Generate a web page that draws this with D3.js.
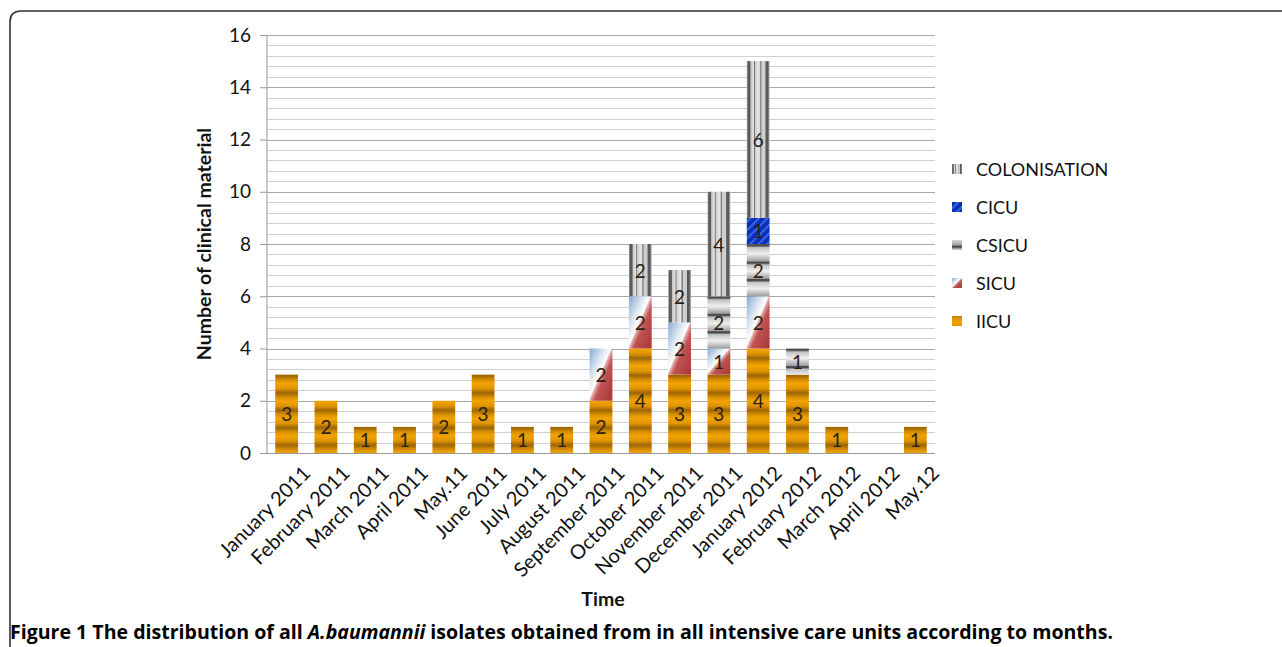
<!DOCTYPE html>
<html lang="en">
<meta charset="utf-8">
<script src="https://d3js.org/d3.v7.min.js"></script>
<head>
    <style type="text/css">
        body { margin: 0; background: white; }
        text { font-family: Lato, "Open Sans", sans-serif; }
        .tick text { fill: #111; }
        .label { font-size: 19.5px; font-weight: bold; fill: #111; }
        .seg { font-size: 19px; fill: #2b2010; }
        .legend text { font-size: 18px; fill: #111; }
    </style>
</head>
<body>
<div id="my_dataviz"></div>
<script>

    // data
    const months = ["January 2011", "February 2011", "March 2011", "April 2011", "May.11", "June 2011",
        "July 2011", "August 2011", "September 2011", "October 2011", "November 2011", "December 2011",
        "January 2012", "February 2012", "March 2012", "April 2012", "May.12"];
    const units = ["IICU", "SICU", "CSICU", "CICU", "COLONISATION"];
    const iicu = [3, 2, 1, 1, 2, 3, 1, 1, 2, 4, 3, 3, 4, 3, 1, 0, 1];
    const sicu = [0, 0, 0, 0, 0, 0, 0, 0, 2, 2, 2, 1, 2, 0, 0, 0, 0];
    const csicu = [0, 0, 0, 0, 0, 0, 0, 0, 0, 0, 0, 2, 2, 1, 0, 0, 0];
    const cicu = [0, 0, 0, 0, 0, 0, 0, 0, 0, 0, 0, 0, 1, 0, 0, 0, 0];
    const colonisation = [0, 0, 0, 0, 0, 0, 0, 0, 0, 2, 2, 4, 6, 0, 0, 0, 0];
    const yTicks = [0, 2, 4, 6, 8, 10, 12, 14, 16];

    const rows = months.map((m, i) => ({
        month: m, IICU: iicu[i], SICU: sicu[i], CSICU: csicu[i], CICU: cicu[i], COLONISATION: colonisation[i]
    }));

    const W = 1282, H = 647;
    const plot = { left: 267, right: 935, top: 35, bottom: 453 };

    const svg = d3.select("#my_dataviz")
        .append("svg")
        .attr("width", W)
        .attr("height", H);

    // frame with rounded top-left corner
    svg.append("path")
        .attr("d", "M10,660 L10,22 Q10,11 21,11 L1290,11")
        .attr("fill", "none")
        .attr("stroke", "#333")
        .attr("stroke-width", 1.6);

    const defs = svg.append("defs");

    // IICU: golden horizontal bands
    const gGold = defs.append("linearGradient").attr("id", "gGold")
        .attr("x1", 0).attr("y1", 0).attr("x2", 0).attr("y2", 1);
    [[0, "#f2a400"], [0.3, "#e09400"], [0.55, "#9a6406"], [0.75, "#d08a00"], [1, "#f2a400"]]
        .forEach(s => gGold.append("stop").attr("offset", s[0]).attr("stop-color", s[1]));
    const pGold = defs.append("pattern").attr("id", "pGold")
        .attr("patternUnits", "userSpaceOnUse").attr("width", 40).attr("height", 17.4)
        .attr("y", 453);
    pGold.append("rect").attr("width", 40).attr("height", 17.4).attr("fill", "url(#gGold)");

    // SICU: blue/white to red diagonal
    const gSicu = defs.append("linearGradient").attr("id", "gSicu")
        .attr("x1", 0).attr("y1", 0).attr("x2", 1).attr("y2", 1);
    [[0, "#86a8d4"], [0.3, "#d8e4f0"], [0.47, "#ffffff"], [0.5, "#e2b0b0"], [0.6, "#c05252"], [1, "#a83838"]]
        .forEach(s => gSicu.append("stop").attr("offset", s[0]).attr("stop-color", s[1]));

    // CSICU: gray horizontal bands
    const gCs = defs.append("linearGradient").attr("id", "gCs")
        .attr("x1", 0).attr("y1", 0).attr("x2", 0).attr("y2", 1);
    [[0, "#4a4a4a"], [0.12, "#4a4a4a"], [0.16, "#bdbdbd"], [0.55, "#f0f0f0"], [1, "#9a9a9a"]]
        .forEach(s => gCs.append("stop").attr("offset", s[0]).attr("stop-color", s[1]));
    const pCs = defs.append("pattern").attr("id", "pCs")
        .attr("patternUnits", "userSpaceOnUse").attr("width", 40).attr("height", 17.4)
        .attr("y", 453);
    pCs.append("rect").attr("width", 40).attr("height", 17.4).attr("fill", "url(#gCs)");

    // COLONISATION: light gray with thin dark vertical stripes
    const gCol = defs.append("linearGradient").attr("id", "gCol")
        .attr("x1", 0).attr("y1", 0).attr("x2", 1).attr("y2", 0);
    [[0, "#b0b0b0"], [0.06, "#5a5a5a"], [0.14, "#5a5a5a"], [0.18, "#c4c4c4"], [0.3, "#e4e4e4"],
        [0.34, "#707070"], [0.38, "#d0d0d0"], [0.55, "#e8e8e8"], [0.62, "#707070"], [0.66, "#d0d0d0"],
        [0.8, "#cfcfcf"], [0.84, "#5a5a5a"], [0.92, "#5a5a5a"], [1, "#b8b8b8"]]
        .forEach(s => gCol.append("stop").attr("offset", s[0]).attr("stop-color", s[1]));

    // CICU: blue with diagonal streaks
    const pCicu = defs.append("pattern").attr("id", "pCicu")
        .attr("patternUnits", "userSpaceOnUse").attr("width", 6).attr("height", 6)
        .attr("patternTransform", "rotate(45)");
    pCicu.append("rect").attr("width", 6).attr("height", 6).attr("fill", "#0a2fb8");
    pCicu.append("rect").attr("width", 2).attr("height", 6).attr("fill", "#3a64e0");

    const fills = {
        IICU: "url(#pGold)", SICU: "url(#gSicu)", CSICU: "url(#pCs)",
        CICU: "url(#pCicu)", COLONISATION: "url(#gCol)"
    };

    const x = d3.scaleBand()
        .domain(months)
        .range([plot.left, plot.right])
        .paddingInner(0.42)
        .paddingOuter(0.21);

    const y = d3.scaleLinear()
        .domain([0, 16])
        .range([plot.bottom, plot.top]);

    // minor gridlines every 0.4, major every 2
    const minor = d3.range(0, 16.01, 0.4);
    svg.append("g").selectAll("line")
        .data(minor)
        .join("line")
        .attr("x1", plot.left).attr("x2", plot.right)
        .attr("y1", d => Math.round(y(d)) + 0.5).attr("y2", d => Math.round(y(d)) + 0.5)
        .attr("stroke", "#cfcfcf")
        .attr("stroke-width", 1.2);
    svg.append("g").selectAll("line")
        .data(yTicks)
        .join("line")
        .attr("x1", plot.left).attr("x2", plot.right)
        .attr("y1", d => Math.round(y(d)) + 0.5).attr("y2", d => Math.round(y(d)) + 0.5)
        .attr("stroke", "#a8a8a8")
        .attr("stroke-width", 1.2);

    // Y axis
    const yAxis = svg.append("g")
        .attr("transform", `translate(${plot.left},0)`)
        .call(d3.axisLeft(y).tickValues(yTicks).tickSize(7).tickPadding(9));
    yAxis.selectAll("line, path").attr("stroke", "#999");
    yAxis.select(".domain").attr("d", `M0,${plot.top}V${plot.bottom}`);
    yAxis.selectAll("text").style("font-size", "19px");

    // X axis
    const xAxis = svg.append("g")
        .attr("transform", `translate(0,${plot.bottom})`)
        .call(d3.axisBottom(x).tickSize(0).tickPadding(0));
    xAxis.select(".domain").attr("stroke", "#999").attr("d", `M${plot.left},0.5H${plot.right}`);
    xAxis.selectAll("text")
        .attr("dy", null)
        .attr("y", 0)
        .attr("transform", d => `translate(${x.bandwidth() / 2 + 10},18)rotate(-45)`)
        .style("text-anchor", "end")
        .style("font-size", "20px")
        .attr("dominant-baseline", "middle");

    // Stacked bars
    const series = d3.stack().keys(units)(rows);
    const layer = svg.append("g").selectAll("g")
        .data(series)
        .join("g")
        .attr("fill", d => fills[d.key]);
    layer.selectAll("rect")
        .data(d => d.filter(s => s[1] - s[0] > 0))
        .join("rect")
        .attr("x", d => x(d.data.month))
        .attr("y", d => y(d[1]))
        .attr("width", x.bandwidth())
        .attr("height", d => y(d[0]) - y(d[1]));

    // value labels
    svg.append("g").selectAll("g")
        .data(series)
        .join("g")
        .selectAll("text")
        .data(d => d.filter(s => s[1] - s[0] > 0))
        .join("text")
        .attr("class", "seg")
        .attr("x", d => x(d.data.month) + x.bandwidth() / 2)
        .attr("y", d => (y(d[0]) + y(d[1])) / 2)
        .attr("text-anchor", "middle")
        .attr("dominant-baseline", "central")
        .text(d => d[1] - d[0]);

    // axis titles
    svg.append("text")
        .attr("class", "label")
        .attr("transform", `translate(206,${(plot.top + plot.bottom) / 2})rotate(-90)`)
        .attr("text-anchor", "middle")
        .attr("dominant-baseline", "middle")
        .text("Number of clinical material");
    svg.append("text")
        .attr("class", "label")
        .attr("x", 603).attr("y", 606)
        .attr("text-anchor", "middle")
        .text("Time");

    // legend (top to bottom, reverse stack order)
    const legend = svg.append("g").attr("class", "legend")
        .selectAll("g")
        .data(units.slice().reverse())
        .join("g")
        .attr("transform", (d, i) => `translate(952,${169 + i * 38})`);
    legend.append("rect")
        .attr("x", 0).attr("y", -5)
        .attr("width", 10).attr("height", 10)
        .attr("fill", d => fills[d]);
    legend.append("text")
        .attr("x", 24).attr("y", 0)
        .attr("dominant-baseline", "central")
        .text(d => d);

    // caption
    const cap = svg.append("text")
        .attr("x", 10).attr("y", 639)
        .style("font-size", "20px")
        .style("font-weight", "bold")
        .style("font-family", "'Liberation Sans Narrow', 'Open Sans', sans-serif")
        .attr("textLength", 1103)
        .attr("lengthAdjust", "spacingAndGlyphs");
    cap.append("tspan").text("Figure 1 The distribution of all ");
    cap.append("tspan").style("font-style", "italic").text("A.baumannii");
    cap.append("tspan").text(" isolates obtained from in all intensive care units according to months.");

</script>
</body>
</html>
